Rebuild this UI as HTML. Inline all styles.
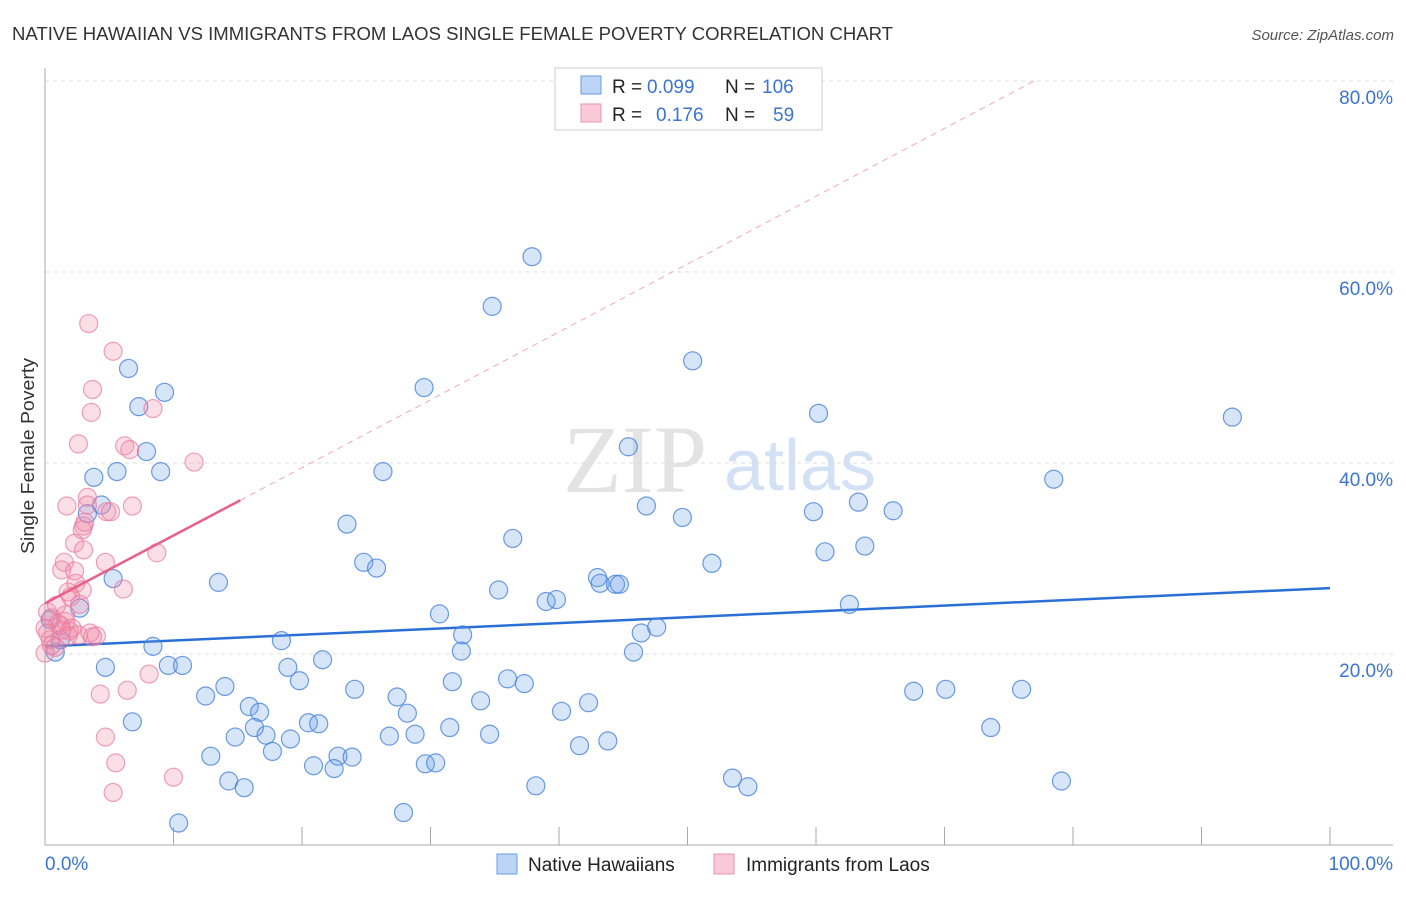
<!DOCTYPE html>
<html><head><meta charset="utf-8"><style>
body{margin:0;background:#fff;font-family:"Liberation Sans",sans-serif}
#wrap{position:relative;width:1406px;height:892px}
</style></head><body>
<div id="wrap">
<svg id="svg" width="1406" height="892" xmlns="http://www.w3.org/2000/svg">
<text x="12" y="40" font-size="18" fill="#333" textLength="881" lengthAdjust="spacingAndGlyphs">NATIVE HAWAIIAN VS IMMIGRANTS FROM LAOS SINGLE FEMALE POVERTY CORRELATION CHART</text>
<text x="1394" y="40" font-size="15" fill="#555" text-anchor="end" font-style="italic">Source: ZipAtlas.com</text>
<text x="34" y="456" font-size="18" fill="#333" text-anchor="middle" textLength="196" lengthAdjust="spacingAndGlyphs" transform="rotate(-90 34 456)">Single Female Poverty</text>
<g><text x="635" y="492" font-size="96" fill="#ddd" font-family="Liberation Serif,serif" text-anchor="middle" opacity="0.8">ZIP</text><text x="800" y="490" font-size="72" fill="#c9daf2" text-anchor="middle" opacity="0.8">atlas</text></g>
<g id="grid"></g><g id="axes"></g><g id="trend"></g><g id="pts"></g>
<g>
<rect x="555" y="68" width="267" height="62" fill="#fff" stroke="#ccc"/>
<rect x="581" y="76" width="20" height="18" fill="#bcd4f5" stroke="#6a9be0"/>
<rect x="581" y="104" width="20" height="18" fill="#f9c9d8" stroke="#ec93b0"/>
<text x="612" y="93" font-size="19" fill="#222">R =</text>
<text x="647" y="93" font-size="19" fill="#3b74d4">0.099</text>
<text x="725" y="93" font-size="19" fill="#222">N =</text>
<text x="762" y="93" font-size="19" fill="#3b74d4">106</text>
<text x="612" y="121" font-size="19" fill="#222">R =</text>
<text x="656" y="121" font-size="19" fill="#3b74d4">0.176</text>
<text x="725" y="121" font-size="19" fill="#222">N =</text>
<text x="773" y="121" font-size="19" fill="#3b74d4">59</text>
</g>
<g>
<rect x="497" y="854" width="20" height="20" fill="#bcd4f5" stroke="#6a9be0"/>
<text x="528" y="871" font-size="19" fill="#222">Native Hawaiians</text>
<rect x="714" y="854" width="20" height="20" fill="#f9c9d8" stroke="#ec93b0"/>
<text x="746" y="871" font-size="19" fill="#222">Immigrants from Laos</text>
</g>
</svg></div>
<script>
const yTicks=[20,40,60,80];
const yTickLabels=["20.0%","40.0%","60.0%","80.0%"];
const xEndLabels=["0.0%","100.0%"];
const blueX=[37.9,34.8,50.4,6.5,9.3,7.3,29.5,60.2,92.4,45.4,7.9,3.8,5.6,9.0,26.3,78.5,4.4,3.3,46.8,23.5,49.6,59.8,63.3,66.0,36.4,60.7,63.8,24.8,25.8,51.9,5.3,13.5,43.0,43.2,44.4,44.7,35.3,39.0,39.8,2.7,62.6,30.7,32.5,46.4,47.6,18.4,8.4,0.8,32.4,45.8,21.6,4.7,9.6,10.7,18.9,19.8,31.7,36.0,37.3,12.5,14.0,24.1,27.4,67.6,70.1,76.0,33.9,42.3,15.9,16.7,28.2,40.2,6.8,20.5,21.3,16.3,31.5,73.6,14.8,17.2,19.1,26.8,28.8,34.6,12.9,17.7,22.8,23.9,41.6,43.8,20.9,22.5,29.6,30.4,53.5,54.7,14.3,15.5,38.2,79.1,27.9,10.4,0.4,1.2];
const blueY=[61.6,56.4,50.7,49.9,47.4,45.9,47.9,45.2,44.8,41.7,41.2,38.5,39.1,39.1,39.1,38.3,35.6,34.7,35.5,33.6,34.3,34.9,35.9,35.0,32.1,30.7,31.3,29.6,29.0,29.5,27.9,27.5,28.0,27.4,27.3,27.3,26.7,25.5,25.7,24.8,25.2,24.2,22.0,22.2,22.8,21.4,20.8,20.2,20.3,20.2,19.4,18.6,18.8,18.8,18.6,17.2,17.1,17.4,16.9,15.6,16.6,16.3,15.5,16.1,16.3,16.3,15.1,14.9,14.5,13.9,13.8,14.0,12.9,12.8,12.7,12.3,12.3,12.3,11.3,11.5,11.1,11.4,11.6,11.6,9.3,9.8,9.3,9.2,10.4,10.9,8.3,8.0,8.5,8.6,7.0,6.1,6.7,6.0,6.2,6.7,3.4,2.3,23.6,21.5];
const pinkX=[3.4,5.3,3.7,3.6,8.4,2.6,6.2,6.6,11.6,1.7,3.3,3.3,6.8,4.8,5.1,3.1,3.0,2.9,8.7,2.3,3.0,4.7,1.5,1.3,2.3,2.4,2.9,6.1,1.8,2.0,2.7,0.2,0.5,1.0,1.6,1.9,1.3,0.0,0.4,0.8,0.0,4.0,3.7,2.6,8.1,6.4,4.3,4.7,5.5,10.0,5.3,1.2,1.6,0.9,0.2,0.5,2.1,3.5,1.8];
const pinkY=[54.6,51.7,47.7,45.3,45.7,42.0,41.8,41.4,40.1,35.5,36.4,35.6,35.5,34.9,34.9,33.8,33.4,33.0,30.6,31.6,30.9,29.6,29.6,28.8,28.7,27.4,26.7,26.8,26.5,26.0,25.2,24.4,23.8,23.2,23.4,22.4,22.5,22.7,21.5,20.7,20.1,21.9,21.8,22.0,17.9,16.2,15.8,11.3,8.6,7.1,5.5,23.0,24.1,25.1,22.2,20.9,22.7,22.2,21.9];
const blueTrend=[20.8,26.9];
const pinkTrend=[25.3,36.1];
const pinkSolidEnd=15.2;

const X=v=>45+v*12.85, Y=v=>845-v*9.55;
const NS="http://www.w3.org/2000/svg";
function mk(t,a,p){const e=document.createElementNS(NS,t);for(const k in a)e.setAttribute(k,a[k]);p.appendChild(e);return e;}
const grid=document.getElementById('grid'),axes=document.getElementById('axes'),trend=document.getElementById('trend'),pts=document.getElementById('pts');
yTicks.forEach((t,i)=>{
 const l=mk('line',{x1:45,x2:1393,y1:Y(t),y2:Y(t),stroke:'#ddd','stroke-dasharray':'4 4'},grid);
 
 
 const tx=mk('text',{x:1393,y:Y(t)+23,'font-size':19,fill:'#3b74d4','text-anchor':'end'},axes);
 tx.textContent=yTickLabels[i];
 
 
});
const ax=mk('line',{x1:45,x2:1393,y1:845,y2:845,stroke:'#aaa'},axes);


const ay=mk('line',{x1:45,x2:45,y1:68,y2:845,stroke:'#aaa'},axes);


for(let i=1;i<=10;i++){const tk=mk('line',{x1:X(i*10),x2:X(i*10),y1:827,y2:845,stroke:'#aaa'},axes);
 
 }
const xl0=mk('text',{x:45,y:870,'font-size':19,fill:'#3b74d4'},axes);xl0.textContent=xEndLabels[0];


const xl1=mk('text',{x:1393,y:870,'font-size':19,fill:'#3b74d4','text-anchor':'end'},axes);xl1.textContent=xEndLabels[1];


function circ(x,y,fill,stroke,name){const c=mk('circle',{cx:X(x),cy:Y(y),r:9,fill:fill,stroke:stroke,'stroke-width':1.2},pts);
 
 }
blueX.forEach((x,i)=>circ(x,blueY[i],'rgba(110,160,235,0.28)','rgba(70,130,220,0.8)','point-native-hawaiian'));
pinkX.forEach((x,i)=>circ(x,pinkY[i],'rgba(240,140,170,0.28)','rgba(232,120,160,0.7)','point-laos'));
const bt=mk('line',{x1:X(0),y1:Y(blueTrend[0]),x2:X(100),y2:Y(blueTrend[1]),stroke:'#2a6fd6','stroke-width':2.5},trend);


const slope=(pinkTrend[1]-pinkTrend[0])/pinkSolidEnd;
const xEnd=(80-pinkTrend[0])/slope;
const pd=mk('line',{x1:X(pinkSolidEnd),y1:Y(pinkTrend[1]),x2:X(xEnd),y2:Y(80),stroke:'#f0a8c0','stroke-width':1,'stroke-dasharray':'6 5'},trend);


const pt=mk('line',{x1:X(0),y1:Y(pinkTrend[0]),x2:X(pinkSolidEnd),y2:Y(pinkTrend[1]),stroke:'#e8608a','stroke-width':2.5},pts);


</script>
</body></html>
